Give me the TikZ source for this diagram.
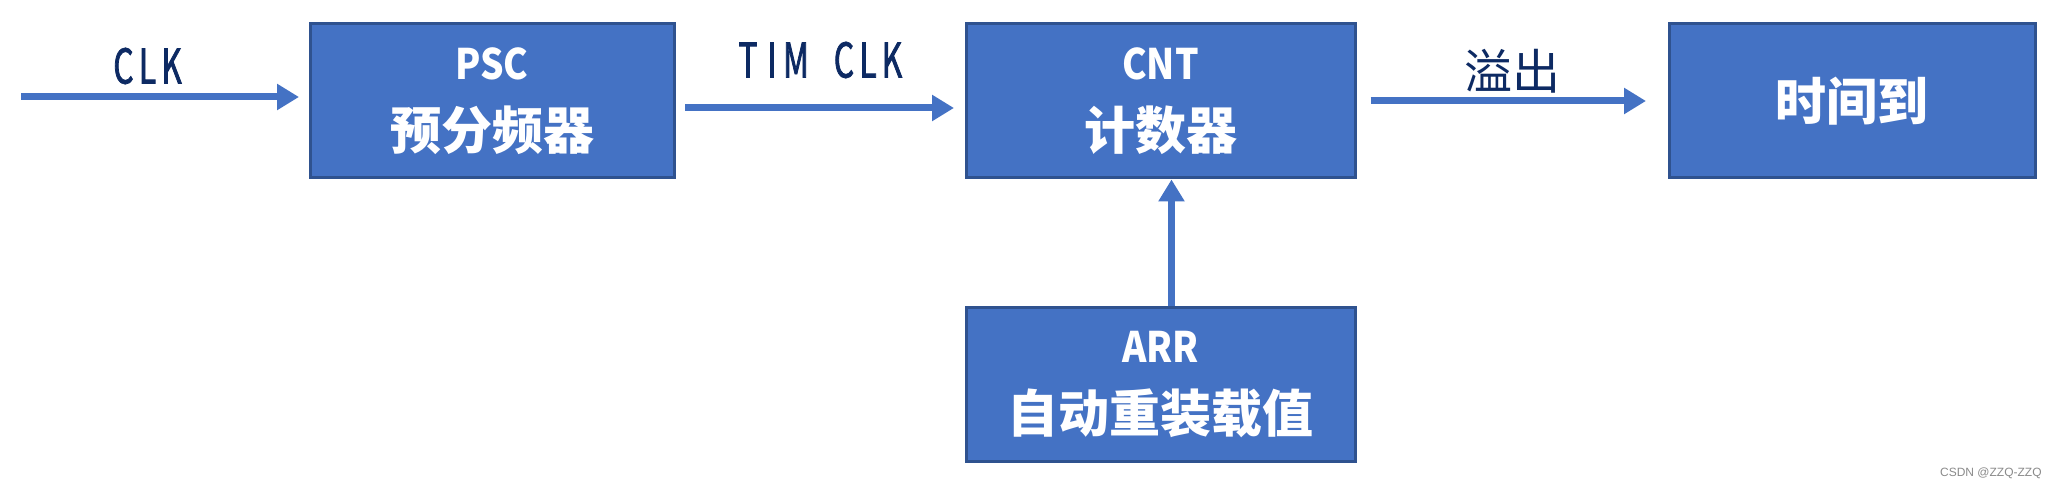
\documentclass[tikz,border=0pt]{standalone}
\usepackage{fontspec}
\usetikzlibrary{arrows.meta}
\newfontfamily\cjkfont{Noto Sans CJK SC}
\newfontfamily\latbox[FakeStretch=0.88]{Noto Sans CJK SC}
\newfontfamily\latlbl[FakeStretch=0.66,FakeBold=1.6]{Noto Sans CJK SC}
\newfontfamily\markfont{Liberation Sans}
\definecolor{boxfill}{HTML}{4472C4}
\definecolor{boxline}{HTML}{2F528F}
\definecolor{lblcol}{HTML}{0D2A63}
\definecolor{markcol}{HTML}{8A8A8A}
% half-width cell for monospaced Latin labels
\newcommand\hw[1]{\makebox[0.5em]{#1}}
\begin{document}
\begin{tikzpicture}[x=0.5pt,y=-0.5pt,
  blk/.style={draw=boxline, line width=1.5pt, fill=boxfill, text=white,
    inner sep=0pt, align=center, minimum height=77pt,
    font=\cjkfont\bfseries\fontsize{25.5pt}{35pt}\selectfont},
  flow/.style={draw=boxfill, line width=3.5pt,
    -{Triangle[length=11pt,width=12.5pt]}},
  lbltext/.style={text=lblcol, inner sep=0pt,
    font=\cjkfont\fontsize{24pt}{28pt}\selectfont},
]
\useasboundingbox (0,0) rectangle (2057,490);

% blocks
\node[blk, minimum width=182pt] (psc) at (492,101)
  {{\latbox\bfseries\fontsize{21pt}{35pt}\selectfont PSC}\\预分频器};
\node[blk, minimum width=194.5pt] (cnt) at (1160.5,101)
  {{\latbox\bfseries\fontsize{21pt}{35pt}\selectfont CNT}\\计数器};
\node[blk, minimum width=183pt] (time) at (1852,101) {时间到};
\node[blk, minimum width=194.5pt] (arr) at (1160.5,385)
  {{\latbox\bfseries\fontsize{21pt}{35pt}\selectfont ARR}\\自动重装载值};

% connectors
\coordinate (clkin) at (21,97);
\draw[flow, shorten >=4.75pt] (clkin) -- (clkin -| psc.west)
  node[lbltext, pos=0.44, yshift=15.5pt] (clklbl)
  {\latlbl\hw{C}\hw{L}\hw{K}};
\draw[flow, shorten <=4.75pt, shorten >=5.25pt]
  ([yshift=-3.5pt]psc.east) -- ([yshift=-3.5pt]cnt.west)
  node[lbltext, midway, yshift=24pt] (timlbl)
  {\latlbl\hw{T}\hw{I}\hw{M}\hw{}\hw{C}\hw{L}\hw{K}};
\draw[flow, shorten <=7pt, shorten >=10.75pt] (cnt.east) -- (time.west)
  node[lbltext, midway, yshift=15pt] (ovflbl) {溢出};
\draw[flow] ([xshift=5.5pt]arr.north) -- ([xshift=5.5pt]cnt.south);

% credit line
\node[font=\markfont\fontsize{6pt}{7pt}\selectfont, text=markcol,
  anchor=east, inner sep=0pt] (credit) at (2042,473) {CSDN @ZZQ-ZZQ};
\end{tikzpicture}
\end{document}
